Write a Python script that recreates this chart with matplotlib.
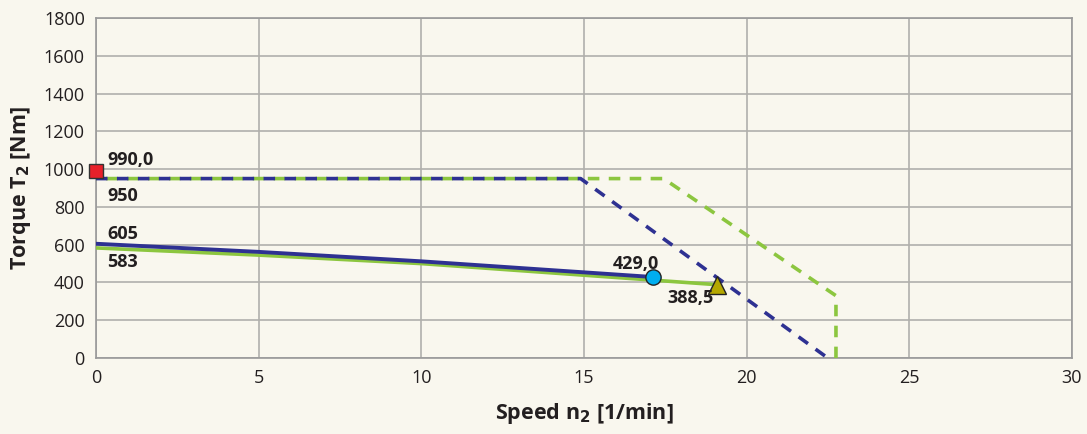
import matplotlib.pyplot as plt

# rated torque limits (dashed)
blue_lim_x = [0, 14.9, 22.5]
blue_lim_y = [950, 950, 0]
green_lim_x = [0, 17.45, 22.75, 22.75]
green_lim_y = [950, 950, 330, 0]

# operating curves (solid)
blue_x = [0, 5, 10, 17.12]
blue_y = [605, 562, 512, 429.0]
green_x = [0, 5, 10, 19.08]
green_y = [583, 545, 500, 388.5]

peak_x, peak_y = 0, 990.0
circle_x, circle_y = 17.12, 429.0
tri_x, tri_y = 19.08, 388.5

navy = '#2e3192'
lime = '#8cc63f'
bg = '#f9f7ee'

plt.rcParams['font.family'] = ['Open Sans', 'DejaVu Sans']

fig = plt.figure(figsize=(10.87, 4.34), dpi=100, facecolor=bg)
ax = fig.add_axes([0.0883, 0.175, 0.8977, 0.7835], facecolor=bg)

ax.plot(green_lim_x, green_lim_y, color=lime, lw=2.6, ls=(3.0, (3.2, 2.6)), zorder=3)
ax.plot(blue_lim_x, blue_lim_y, color=navy, lw=2.6, ls=(0, (3.2, 2.6)), zorder=3)
ax.plot(green_x, green_y, color=lime, lw=2.6, zorder=4)
ax.plot(blue_x, blue_y, color=navy, lw=2.8, zorder=4)

ax.plot(peak_x, peak_y, marker='s', ms=10, color='#e8202a', mec='#333333', mew=1, zorder=6, clip_on=False)
ax.plot(circle_x, circle_y, marker='o', ms=11, color='#00aeef', mec='#222222', mew=1, zorder=6)
ax.plot(tri_x, tri_y, marker='^', ms=13, color='#b5a800', mec='#222222', mew=1, zorder=6)

lbl = dict(fontsize=13, fontweight='bold', color='#231f20', zorder=7)
ax.text(0.35, 1000, '990,0', ha='left', va='bottom', **lbl)
ax.text(0.35, 905, '950', ha='left', va='top', **lbl)
ax.text(0.35, 610, '605', ha='left', va='bottom', **lbl)
ax.text(0.35, 555, '583', ha='left', va='top', **lbl)
ax.text(17.3, 452, '429,0', ha='right', va='bottom', **lbl)
ax.text(19.0, 365, '388,5', ha='right', va='top', **lbl)

ax.set_xlim(0, 30)
ax.set_ylim(0, 1800)
ax.set_xticks(range(0, 31, 5))
ax.set_yticks(range(0, 1801, 200))
ax.grid(True, color='#b0b0ac', lw=1.2)
ax.set_axisbelow(True)
for s in ax.spines.values():
    s.set_color('#999999')
    s.set_linewidth(1.2)
ax.tick_params(length=0, labelsize=13, colors='#231f20', pad=8)

ax.set_xlabel('Speed n$_\\mathbf{2}$ [1/min]', fontsize=15.5, fontweight='bold', color='#231f20', labelpad=10)
ax.set_ylabel('Torque T$_\\mathbf{2}$ [Nm]', fontsize=15.5, fontweight='bold', color='#231f20', labelpad=8)

fig.savefig('out.png', dpi=100, facecolor=bg)
